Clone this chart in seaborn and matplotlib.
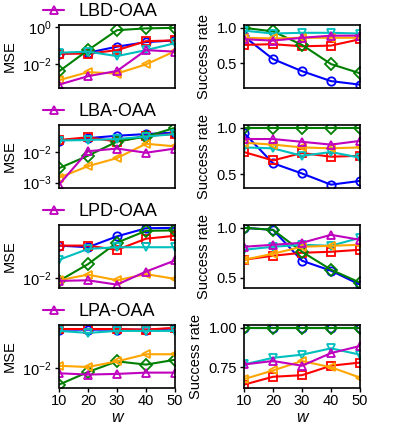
import numpy as np
import pandas as pd
import seaborn as sns
import matplotlib
matplotlib.use("Agg")
import matplotlib.pyplot as plt
from matplotlib.ticker import LogLocator, NullLocator, MultipleLocator, LogFormatterSciNotation

sns.set_style("white")
plt.rcParams['font.family'] = ['Liberation Sans', 'DejaVu Sans']
plt.rcParams['axes.edgecolor'] = 'black'
plt.rcParams['axes.linewidth'] = 1.2
plt.rcParams['text.color'] = 'black'
plt.rcParams['axes.labelcolor'] = 'black'
plt.rcParams['xtick.color'] = 'black'
plt.rcParams['ytick.color'] = 'black'

w = [10, 20, 30, 40, 50]
methods = ["blue", "red", "green", "cyan", "orange", "magenta"]
row_titles = ["LBD-OAA", "LBA-OAA", "LPD-OAA", "LPA-OAA"]

# ---- MSE values (per row, per series) ----
mse_lbd_blue = [0.038, 0.043, 0.091, 0.16, 0.20]
mse_lbd_red = [0.038, 0.038, 0.059, 0.18, 0.20]
mse_lbd_green = [0.0042, 0.059, 0.71, 0.89, 0.95]
mse_lbd_cyan = [0.043, 0.049, 0.028, 0.059, 0.14]
mse_lbd_orange = [0.0014, 0.0038, 0.0032, 0.010, 0.052]
mse_lbd_magenta = [0.0008, 0.0023, 0.0044, 0.059, 0.049]

mse_lba_blue = [0.025, 0.030, 0.036, 0.041, 0.046]
mse_lba_red = [0.026, 0.032, 0.023, 0.036, 0.041]
mse_lba_green = [0.0030, 0.0078, 0.023, 0.034, 0.066]
mse_lba_cyan = [0.025, 0.026, 0.028, 0.034, 0.041]
mse_lba_orange = [0.00145, 0.0035, 0.0065, 0.0195, 0.016]
mse_lba_magenta = [0.00085, 0.011, 0.0135, 0.0098, 0.0135]

mse_lpd_blue = [0.034, 0.032, 0.048, 0.065, 0.066]
mse_lpd_red = [0.034, 0.034, 0.029, 0.044, 0.049]
mse_lpd_green = [0.0091, 0.017, 0.038, 0.059, 0.060]
mse_lpd_cyan = [0.020, 0.030, 0.032, 0.032, 0.032]
mse_lpd_orange = [0.0093, 0.0115, 0.0093, 0.0117, 0.0098]
mse_lpd_magenta = [0.0091, 0.0093, 0.0079, 0.0129, 0.0195]

mse_lpa_blue = [0.043, 0.043, 0.043, 0.043, 0.045]
mse_lpa_red = [0.044, 0.044, 0.044, 0.043, 0.046]
mse_lpa_green = [0.0054, 0.0087, 0.013, 0.0115, 0.0138]
mse_lpa_cyan = [0.041, 0.038, 0.041, 0.041, 0.041]
mse_lpa_orange = [0.011, 0.0105, 0.013, 0.017, 0.017]
mse_lpa_magenta = [0.0083, 0.0079, 0.0081, 0.0085, 0.0085]

# ---- Success rate values ----
sr_lbd_blue = [0.88, 0.56, 0.39, 0.25, 0.20]
sr_lbd_red = [0.76, 0.77, 0.74, 0.75, 0.84]
sr_lbd_green = [1.0, 0.95, 0.76, 0.49, 0.36]
sr_lbd_cyan = [0.96, 0.92, 0.93, 0.93, 0.92]
sr_lbd_orange = [0.86, 0.85, 0.86, 0.86, 0.86]
sr_lbd_magenta = [0.84, 0.82, 0.86, 0.89, 0.89]

sr_lba_blue = [0.945, 0.62, 0.51, 0.39, 0.43]
sr_lba_red = [0.74, 0.65, 0.73, 0.69, 0.70]
sr_lba_green = [1.0, 1.0, 1.0, 1.0, 1.0]
sr_lba_cyan = [0.79, 0.78, 0.70, 0.74, 0.68]
sr_lba_orange = [0.84, 0.82, 0.79, 0.78, 0.79]
sr_lba_magenta = [0.88, 0.88, 0.85, 0.82, 0.86]

sr_lpd_blue = [1.0, 0.98, 0.67, 0.57, 0.43]
sr_lpd_red = [0.68, 0.72, 0.75, 0.76, 0.78]
sr_lpd_green = [1.0, 0.98, 0.76, 0.58, 0.45]
sr_lpd_cyan = [0.78, 0.81, 0.83, 0.82, 0.90]
sr_lpd_orange = [0.68, 0.74, 0.81, 0.82, 0.83]
sr_lpd_magenta = [0.81, 0.83, 0.85, 0.93, 0.88]

sr_lpa_blue = [1.0, 1.0, 1.0, 1.0, 1.0]
sr_lpa_red = [0.64, 0.69, 0.70, 0.76, 0.78]
sr_lpa_green = [1.0, 1.0, 1.0, 1.0, 1.0]
sr_lpa_cyan = [0.768, 0.81, 0.83, 0.87, 0.83]
sr_lpa_orange = [0.675, 0.73, 0.79, 0.75, 0.685]
sr_lpa_magenta = [0.768, 0.79, 0.76, 0.84, 0.885]

mse_rows = [
    [mse_lbd_blue, mse_lbd_red, mse_lbd_green, mse_lbd_cyan, mse_lbd_orange, mse_lbd_magenta],
    [mse_lba_blue, mse_lba_red, mse_lba_green, mse_lba_cyan, mse_lba_orange, mse_lba_magenta],
    [mse_lpd_blue, mse_lpd_red, mse_lpd_green, mse_lpd_cyan, mse_lpd_orange, mse_lpd_magenta],
    [mse_lpa_blue, mse_lpa_red, mse_lpa_green, mse_lpa_cyan, mse_lpa_orange, mse_lpa_magenta],
]
sr_rows = [
    [sr_lbd_blue, sr_lbd_red, sr_lbd_green, sr_lbd_cyan, sr_lbd_orange, sr_lbd_magenta],
    [sr_lba_blue, sr_lba_red, sr_lba_green, sr_lba_cyan, sr_lba_orange, sr_lba_magenta],
    [sr_lpd_blue, sr_lpd_red, sr_lpd_green, sr_lpd_cyan, sr_lpd_orange, sr_lpd_magenta],
    [sr_lpa_blue, sr_lpa_red, sr_lpa_green, sr_lpa_cyan, sr_lpa_orange, sr_lpa_magenta],
]

colors = {"blue": "#0000ff", "red": "#ff0000", "green": "#008000",
          "cyan": "#00bfbf", "orange": "#ffa500", "magenta": "#bf00bf"}
markers = {"blue": "o", "red": "s", "green": "D", "cyan": "v",
           "orange": "<", "magenta": "^"}

W, H = 399, 426
fig = plt.figure(figsize=(W / 100, H / 100), dpi=100)

row_tops = [25, 125, 225, 325]
ax_h = 62.5
left_x, right_x, ax_w = 59, 244, 116


def draw(ax, series_list):
    for name, vals in zip(methods, series_list):
        df = pd.DataFrame({"w": w, "v": vals})
        sns.lineplot(data=df, x="w", y="v", ax=ax, color=colors[name],
                     marker=markers[name], markersize=6,
                     markerfacecolor="none", markeredgecolor=colors[name],
                     markeredgewidth=1.3, linewidth=1.5, legend=False,
                     errorbar=None, clip_on=True)
    return ax.lines


for r in range(4):
    top = row_tops[r]
    bottom_frac = 1 - (top + ax_h) / H
    axL = fig.add_axes([left_x / W, bottom_frac, ax_w / W, ax_h / H])
    axR = fig.add_axes([right_x / W, bottom_frac, ax_w / W, ax_h / H])

    linesL = draw(axL, mse_rows[r])
    axL.set_yscale("log")
    if r == 0:
        axL.yaxis.set_major_locator(LogLocator(base=100, numticks=10))
    else:
        axL.yaxis.set_major_locator(LogLocator(base=10, subs=(1.0,), numticks=10))
    axL.yaxis.set_major_formatter(LogFormatterSciNotation())
    axL.yaxis.set_minor_locator(NullLocator())
    axL.set_ylabel("MSE", fontsize=10.5)

    draw(axR, sr_rows[r])
    axR.yaxis.set_major_locator(MultipleLocator(0.25 if r == 3 else 0.5))
    axR.set_ylabel("Success rate", fontsize=10.5)

    for ax in (axL, axR):
        ax.set_xlim(10, 50)
        ax.tick_params(axis="both", which="major", labelsize=10.5,
                       left=True, bottom=(r == 3), length=3, width=1,
                       pad=2, colors="black")
        ax.set_xticks(w)
        if r == 3:
            ax.set_xlabel("w", fontsize=11.5, fontstyle="italic", labelpad=1)
        else:
            ax.set_xlabel("")
            ax.set_xticklabels([])
        for s in ax.spines.values():
            s.set_visible(True)
            s.set_color("black")
            s.set_linewidth(1.2)

    mag_line = linesL[-1]
    axL.legend([mag_line], [row_titles[r]], loc="center left",
               bbox_to_anchor=(-0.14, 1.21), frameon=False, fontsize=13,
               handlelength=1.2, handletextpad=0.8, borderpad=0,
               borderaxespad=0)

fig.savefig("out.png", dpi=100)
